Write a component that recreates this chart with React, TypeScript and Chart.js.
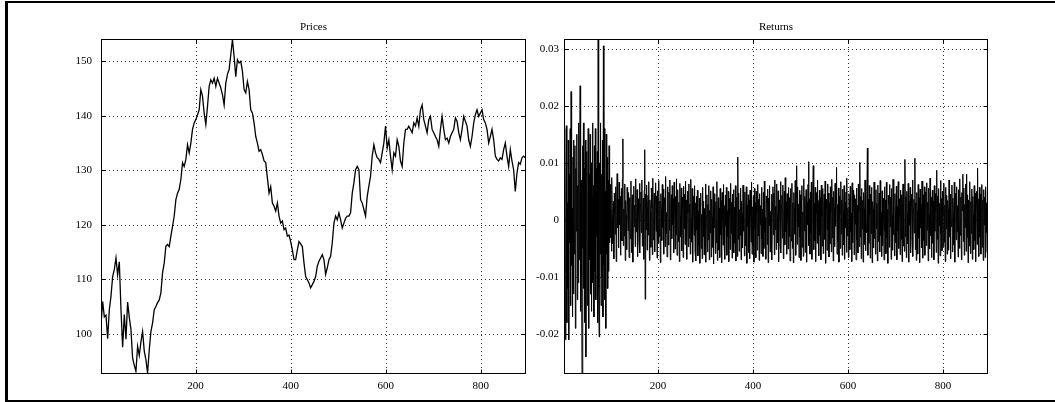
import React, { useEffect, useRef } from "react";
import { Chart, registerables } from "chart.js";

Chart.register(...registerables);

// ---------- data ----------
const PRICE_FIRST_DAY = 1;
const PRICE_SAMPLE_STEP = 3.5;
const prices = [
  101.6, 105.9, 103.1, 103.4, 99.1, 104.4, 106.9, 110.5, 111.8, 113.9, 110.8, 113.2, 104.5, 97.5, 103.5, 99.0,
  105.8, 103.0, 100.8, 95.5, 94.2, 93.1, 97.7, 96.0, 98.5, 100.4, 96.8, 95.2, 92.8, 97.0, 100.4, 102.0,
  104.4, 105.0, 105.7, 106.2, 107.5, 111.2, 113.0, 116.1, 116.4, 116.0, 117.9, 119.7, 121.6, 124.6, 125.8, 126.5,
  128.3, 131.4, 130.7, 132.0, 134.7, 133.2, 135.0, 137.5, 138.7, 139.3, 140.2, 141.1, 144.8, 143.6, 140.5, 138.4,
  141.7, 145.4, 146.6, 146.0, 146.9, 145.4, 146.9, 146.0, 145.1, 143.9, 142.0, 146.0, 147.6, 148.5, 151.2, 154.0,
  150.9, 147.2, 150.3, 149.7, 150.0, 148.2, 144.8, 144.2, 146.3, 144.8, 141.1, 140.5, 138.7, 136.2, 135.0, 133.5,
  133.8, 132.9, 131.7, 131.4, 128.6, 125.8, 127.0, 124.0, 123.4, 122.5, 124.0, 121.6, 120.3, 120.7, 119.1, 119.4,
  117.9, 118.1, 116.9, 115.4, 113.6, 113.6, 115.4, 116.9, 116.5, 116.0, 113.0, 110.5, 109.9, 109.3, 108.4, 109.0,
  109.6, 110.5, 112.4, 113.3, 113.9, 114.5, 113.6, 110.9, 112.1, 113.6, 114.2, 116.7, 120.3, 121.6, 120.9, 122.2,
  120.9, 119.4, 120.3, 121.2, 121.6, 121.6, 122.2, 125.8, 127.7, 130.1, 130.7, 130.1, 124.6, 124.0, 122.8, 121.6,
  125.2, 127.1, 128.9, 132.6, 134.7, 133.2, 132.3, 132.0, 131.4, 133.2, 135.0, 138.1, 134.1, 135.6, 132.6, 130.1,
  133.2, 132.6, 135.6, 134.4, 131.7, 130.7, 135.0, 137.5, 137.5, 138.1, 137.5, 136.9, 138.7, 138.1, 139.6, 138.1,
  141.1, 142.0, 139.3, 138.1, 136.9, 139.3, 139.9, 137.5, 136.9, 136.2, 135.6, 134.4, 137.5, 139.9, 137.5, 135.6,
  135.9, 135.0, 136.2, 136.9, 137.5, 139.6, 139.0, 136.9, 135.6, 137.5, 139.9, 139.0, 138.1, 135.6, 134.4, 136.2,
  138.7, 140.2, 141.1, 139.9, 140.5, 141.1, 139.3, 138.7, 137.5, 135.0, 136.2, 137.5, 135.6, 132.6, 132.0, 131.7,
  132.3, 132.0, 133.8, 135.0, 132.6, 130.7, 133.8, 131.7, 130.1, 126.1, 129.5, 131.4, 131.1, 132.3, 132.6, 132.3,
];

const RETURN_FIRST_DAY = 2;
// daily returns, in percent
const returnsPercent = [
  1.6, -0.9, 1.2, -2.1, 0.5, 1.65, -1.8, 0.3, -1.2, 1.4, -2.1, 0.8, -0.4, 1.6, -1.5, 2.25, -0.8, 0.2, -1.7, 1.1,
  -1.3, 1.4, -0.6, 1.3, -1.9, 0.9, -0.2, 1.5, -1.4, 0.6, -1.1, 1.7, -0.7, 0.4, 2.35, -1.6, 0.7, -1.0, -2.7, 1.3,
  -0.5, 1.7, -1.2, 0.9, -1.8, 1.4, -2.4, 0.6, 1.2, -1.5, 0.3, 1.6, -1.9, 0.8, -0.7, 1.5, -1.3, 1.0, -1.6, 0.4,
  1.7, -1.1, 0.6, -1.7, 1.3, -0.9, 1.6, -1.4, 0.9, -0.3, 1.2, -1.8, 3.17, -1.2, -2.05, 1.0, -0.6, 1.7, -1.5, 0.8,
  -1.0, 1.4, -1.7, 3.05, -0.8, 1.6, -1.4, 0.5, -1.9, 1.5, -0.6, 1.1, -1.2, 0.7, -0.9, 1.3, -0.4,
  0.62, -0.31, 0.18, -0.55, 0.74, 0.05, -0.42, 0.33, -0.68, 0.47, 0.12, -0.25, 0.58, -0.73, 0.29, 0.81, -0.14, 0.36, -0.49, 0.66,
  -0.08, 0.41, -0.62, 0.23, 0.55, -0.37, 0.71, 1.42, -0.45, 0.19, -0.28, 0.63, -0.71, 0.34, 0.08, -0.52, 0.57, 0.27, -0.19, 0.48,
  -0.66, 0.39, 0.11, -0.33, 0.68, -0.57, 0.22, 0.44, -0.74, 0.31, 0.59, -0.12, 0.26, -0.47, 0.72, -0.21, 0.06, 0.53, -0.64, 0.37,
  0.15, -0.39, 0.64, -0.58, 0.28, 0.49, -0.22, 0.7, -0.46, 0.09, 0.38, -0.69, 0.52, 1.23, -1.39, 0.45, -0.17, 0.61, -0.53, 0.24,
  0.43, -0.27, 0.67, -0.71, 0.35, 0.14, -0.48, 0.56, 0.21, -0.61, 0.73, -0.35, 0.1, 0.47, -0.56, 0.3, 0.65, -0.2, 0.42, -0.67,
  0.51, 0.04, -0.41, 0.69, -0.29, 0.33, -0.75, 0.46, 0.18, -0.36, 0.62, -0.13, 0.54, -0.6, 0.27, 0.39, -0.47, 0.76, -0.24, 0.13,
  -0.65, 0.58, 0.32, -0.44, 0.49, -0.18, 0.7, -0.7, 0.25, 0.44, -0.33, 0.6, -0.09, 0.37, -0.58, 0.66, 0.16, -0.51, 0.41, -0.26,
  0.72, -0.62, 0.2, 0.53, -0.38, 0.31, -0.73, 0.64, 0.07, -0.3, 0.56, -0.54, 0.4, 0.22, -0.66, 0.59, -0.15, 0.45, -0.43, 0.68,
  -0.2, 0.35, -0.69, 0.5, 0.12, -0.47, 0.63, -0.32, 0.28, -0.6, 0.71, 0.03, -0.39, 0.55, -0.74, 0.42, 0.19, -0.27, 0.6, -0.55,
  0.3, -0.72, 0.41, -0.18, 0.52, -0.63, 0.15, -0.45, 0.38, -0.76, 0.24, 0.47, -0.5, 0.1, -0.68, 0.57, -0.29, 0.33, -0.61, 0.2,
  -0.42, 0.63, -0.74, 0.08, 0.44, -0.56, 0.27, -0.35, 0.6, -0.7, 0.17, -0.23, 0.51, -0.65, 0.36, 0.05, -0.48, 0.58, -0.77, 0.29,
  -0.14, 0.46, -0.59, 0.32, -0.4, 0.67, -0.71, 0.12, 0.39, -0.53, 0.21, -0.66, 0.55, -0.26, 0.34, -0.75, 0.48, 0.02, -0.44, 0.62,
  -0.37, 0.25, -0.69, 0.43, -0.11, 0.57, -0.62, 0.16, -0.3, 0.5, -0.73, 0.38, 0.09, -0.52, 0.64, -0.24, 0.31, -0.67, 0.45, -0.16,
  0.53, -0.58, 0.22, -0.41, 0.6, -0.72, 0.28, 0.4, -0.64, 1.1, -0.34, 0.47, -0.55, 0.18, -0.27, 0.56, -0.7, 0.33, 0.11, -0.49,
  0.61, -0.2, 0.37, -0.63, 0.49, -0.45, 0.14, 0.58, -0.76, 0.26, -0.12, 0.44, -0.57, 0.35, -0.68, 0.52, 0.07, -0.39, 0.66, -0.6,
  0.23, -0.47, 0.41, -0.74, 0.55, -0.15, 0.3, -0.66, 0.5, 0.13, -0.53, 0.62, -0.28, 0.36, -0.71, 0.46, -0.08, 0.25, -0.59, 0.57,
  -0.33, 0.19, -0.64, 0.48, -0.5, 0.68, -0.22, 0.04, -0.69, 0.42, 0.29, -0.43, 0.54, -0.75, 0.38, -0.1, 0.6, -0.56, 0.15, -0.36,
  0.45, -0.7, 0.32, 0.58, -0.26, 0.47, -0.61, 0.7, -0.17, 0.24, -0.52, 0.63, 0.08, -0.4, 0.51, -0.73, 0.35, 0.19, -0.46, 0.67,
  -0.58, 0.27, 0.43, -0.32, 0.61, -0.68, 0.12, 0.5, -0.44, 0.74, -0.21, 0.33, -0.6, 0.46, 0.02, -0.51, 0.57, -0.29, 0.39, -0.72,
  0.55, 0.16, -0.37, 0.64, -0.5, 0.3, -0.75, 0.48, 0.21, -0.25, 0.69, -0.62, 0.4, 0.95, -0.43, 0.58, -0.12, 0.28, -0.66, 0.52,
  -0.3, 0.44, -0.71, 0.35, 0.6, -0.48, 0.14, -0.64, 0.72, -0.19, 0.41, -0.57, 0.26, 0.53, -0.74, 0.31, -0.08, 0.62, 1.02, -0.45,
  0.37, -0.6, 0.49, -0.23, 0.66, -0.69, 0.18, 0.43, 0.95, -0.52, 0.29, -0.36, 0.57, -0.73, 0.11, 0.48, -0.41, 0.7, -0.15, 0.34,
  -0.63, 0.52, -0.27, 0.39, -0.7, 0.61, 0.06, -0.46, 0.55, -0.59, 0.24, 0.45, -0.34, 0.68, -0.76, 0.2, 0.36, -0.53, 0.63, -0.18,
  0.47, -0.65, 0.3, -0.42, 0.58, 0.13, -0.56, 0.71, -0.31, 0.4, -0.72, 0.5, 0.22, -0.47, 0.64, -0.11, 0.33, 0.92, -0.6, 0.27,
  -0.38, 0.56, -0.74, 0.42, 0.09, -0.5, 0.67, -0.25, 0.35, -0.62, 0.54, 0.17, -0.44, 0.6, -0.69, 0.31, -0.14, 0.49, -0.57, 0.73,
  -0.28, 0.21, -0.66, 0.46, 0.38, -0.52, 0.59, -0.2, 0.12, -0.73, 0.65, -0.4, 0.3, 0.52, -0.61, 0.44, -0.07, 0.37, -0.7, 0.56,
  -0.35, 0.26, -0.58, 0.63, 0.15, -0.47, 1.01, -0.3, 0.41, -0.68, 0.55, -0.16, 0.34, -0.74, 0.48, 0.2, -0.43, 0.7, -0.54, 0.28,
  -0.22, 0.5, 1.26, -0.62, 0.36, -0.41, 0.6, 0.1, -0.67, 0.45, -0.24, 0.57, -0.75, 0.32, 0.19, -0.49, 0.66, -0.33, 0.42, -0.6,
  0.53, -0.15, 0.29, -0.72, 0.61, -0.38, 0.24, 0.47, -0.56, 0.69, -0.27, 0.13, -0.64, 0.51, -0.45, 0.38, 0.04, -0.7, 0.58, -0.2,
  0.35, -0.59, 0.66, -0.31, 0.18, -0.76, 0.43, 0.27, -0.48, 0.62, -0.12, 0.4, -0.69, 0.55, 0.08, -0.53, 0.71, -0.26, 0.32, -0.63,
  0.46, 0.14, -0.4, 0.59, -0.7, 0.23, -0.19, 0.67, -0.5, 0.37, 0.06, -0.61, 0.52, -0.34, 0.44, -0.73, 0.28, 0.63, -0.46, 0.17,
  -0.55, 1.06, -0.29, 0.41, -0.66, 0.5, 0.11, -0.42, 0.64, -0.74, 0.33, -0.09, 0.57, -0.58, 0.25, 0.45, -0.37, 0.7, -0.64, 0.2,
  0.36, -0.23, 1.08, -0.52, 0.3, -0.71, 0.48, 0.16, -0.6, 0.62, -0.32, 0.39, -0.75, 0.54, -0.14, 0.27, -0.49, 0.68, 0.05, -0.67,
  0.44, -0.36, 0.58, -0.62, 0.21, 0.49, -0.45, 0.65, -0.18, 0.31, -0.72, 0.56, 0.1, -0.51, 0.73, -0.28, 0.4, -0.66, 0.24, 0.52,
  -0.41, 0.33, -0.7, 0.6, -0.2, 0.46, 0.15, -0.57, 0.87, -0.34, 0.42, -0.76, 0.55, -0.1, 0.29, -0.63, 0.69, -0.25, 0.37, -0.54,
  0.5, 0.08, -0.47, 0.64, -0.39, 0.26, -0.73, 0.57, -0.16, 0.43, -0.6, 0.34, 0.19, -0.53, 0.7, -0.3, 0.45, -0.68, 0.22, -0.12,
  0.61, -0.56, 0.38, 0.12, -0.44, 0.66, -0.74, 0.3, 0.47, -0.35, 0.58, -0.21, 0.25, -0.65, 0.53, 0.03, -0.5, 0.72, -0.27, 0.4,
  -0.7, 0.48, 0.16, 0.8, -0.38, 0.56, -0.62, 0.27, -0.13, 0.63, -0.55, 0.8, -0.31, 0.44, -0.75, 0.35, 0.2, -0.46, 0.67, -0.59,
  0.32, -0.24, 0.54, -0.69, 0.41, 0.09, -0.52, 0.6, -0.36, 0.47, -0.73, 0.28, 0.5, -0.43, 0.91, -0.17, 0.37, -0.64, 0.57, -0.3,
  0.45, -0.6, 0.21, 0.62, -0.48, 0.35, -0.71, 0.53, -0.09, 0.4, -0.66, 0.58, -0.22, 0.3, -0.57, 0.47, -0.34,
];

const dayTicks = [200, 400, 600, 800];
const priceYTicks = [100, 110, 120, 130, 140, 150];
const returnYTicks = [-0.02, -0.01, 0, 0.01, 0.02, 0.03];
const returnYTickLabels = ["-0.02", "-0.01", "0", "0.01", "0.02", "0.03"];
const priceDayRange = [1, 895];
const returnDayRange = [2, 895];
const priceYRange = [92.6, 154.1];
const returnYRange = [-0.027, 0.0317];

// ---------- styling ----------
const FONT = "'Liberation Serif', 'Times New Roman', serif";

function makeAxesPlugin(title: string) {
  return {
    id: "matlabAxes",
    beforeDatasetsDraw(chart: any) {
      const { ctx, chartArea: a, scales } = chart;
      ctx.save();
      ctx.strokeStyle = "rgba(0,0,0,0.8)";
      ctx.lineWidth = 1;
      ctx.setLineDash([1, 3]);
      for (const t of scales.x.ticks) {
        const px = Math.round(scales.x.getPixelForValue(t.value)) + 0.5;
        ctx.beginPath();
        ctx.moveTo(px, a.top);
        ctx.lineTo(px, a.bottom);
        ctx.stroke();
      }
      for (const t of scales.y.ticks) {
        const py = Math.round(scales.y.getPixelForValue(t.value)) + 0.5;
        ctx.beginPath();
        ctx.moveTo(a.left, py);
        ctx.lineTo(a.right, py);
        ctx.stroke();
      }
      ctx.restore();
    },
    afterDatasetsDraw(chart: any) {
      const { ctx, chartArea: a, scales } = chart;
      const L = Math.round(a.left) + 0.5;
      const R = Math.round(a.right) - 0.5;
      const T = Math.round(a.top) + 0.5;
      const B = Math.round(a.bottom) - 0.5;
      ctx.save();
      ctx.strokeStyle = "#000";
      ctx.lineWidth = 1;
      ctx.setLineDash([]);
      ctx.strokeRect(L, T, R - L, B - T);
      const tl = 4;
      ctx.beginPath();
      for (const t of scales.x.ticks) {
        const px = Math.round(scales.x.getPixelForValue(t.value)) + 0.5;
        ctx.moveTo(px, B);
        ctx.lineTo(px, B - tl);
        ctx.moveTo(px, T);
        ctx.lineTo(px, T + tl);
      }
      for (const t of scales.y.ticks) {
        const py = Math.round(scales.y.getPixelForValue(t.value)) + 0.5;
        ctx.moveTo(L, py);
        ctx.lineTo(L + tl, py);
        ctx.moveTo(R, py);
        ctx.lineTo(R - tl, py);
      }
      ctx.stroke();
      ctx.fillStyle = "#000";
      ctx.font = `11px ${FONT}`;
      ctx.textAlign = "center";
      ctx.textBaseline = "middle";
      ctx.fillText(title, (a.left + a.right) / 2, 27);
      ctx.restore();
    },
  };
}

function makeConfig(opts: {
  points: { x: number; y: number }[];
  title: string;
  xRange: number[];
  yRange: number[];
  yTicks: number[];
  yLabel: (v: number) => string;
  yAxisWidth: number;
  rightPad: number;
  yPad: number;
  lineWidth: number;
}): any {
  return {
    type: "line",
    data: {
      datasets: [
        {
          data: opts.points,
          borderColor: "#000",
          borderWidth: opts.lineWidth,
          pointRadius: 0,
          tension: 0,
          fill: false,
        },
      ],
    },
    plugins: [makeAxesPlugin(opts.title)],
    options: {
      animation: false,
      responsive: false,
      maintainAspectRatio: false,
      events: [],
      parsing: false,
      layout: { padding: { top: 39, right: opts.rightPad, left: 0, bottom: 0 } },
      plugins: {
        legend: { display: false },
        tooltip: { enabled: false },
        title: { display: false },
      },
      scales: {
        x: {
          type: "linear",
          min: opts.xRange[0],
          max: opts.xRange[1],
          grid: { display: false, drawTicks: false },
          border: { display: false },
          afterBuildTicks: (s: any) => {
            s.ticks = dayTicks.map((v) => ({ value: v }));
          },
          afterFit: (s: any) => {
            s.height = 28;
          },
          ticks: {
            padding: 6,
            color: "#000",
            maxRotation: 0,
            autoSkip: false,
            font: { family: FONT, size: 11 },
            callback: (v: number) => String(v),
          },
        },
        y: {
          type: "linear",
          min: opts.yRange[0],
          max: opts.yRange[1],
          grid: { display: false, drawTicks: false },
          border: { display: false },
          afterBuildTicks: (s: any) => {
            s.ticks = opts.yTicks.map((v) => ({ value: v }));
          },
          afterFit: (s: any) => {
            s.width = opts.yAxisWidth;
          },
          ticks: {
            padding: opts.yPad,
            color: "#000",
            autoSkip: false,
            font: { family: FONT, size: 11 },
            callback: (v: number) => opts.yLabel(v),
          },
        },
      },
    },
  };
}

export default function App() {
  const leftRef = useRef<HTMLCanvasElement>(null);
  const rightRef = useRef<HTMLCanvasElement>(null);

  useEffect(() => {
    const pricePoints = prices.map((v, i) => ({ x: PRICE_FIRST_DAY + i * PRICE_SAMPLE_STEP, y: v }));
    const returnPoints = returnsPercent.map((v, i) => ({ x: RETURN_FIRST_DAY + i, y: v / 100 }));

    const left = new Chart(
      leftRef.current as HTMLCanvasElement,
      makeConfig({
        points: pricePoints,
        title: "Prices",
        xRange: priceDayRange,
        yRange: priceYRange,
        yTicks: priceYTicks,
        yLabel: (v) => String(v),
        yAxisWidth: 101,
        rightPad: 540 - 526,
        yPad: 9,
        lineWidth: 1.3,
      })
    );
    const right = new Chart(
      rightRef.current as HTMLCanvasElement,
      makeConfig({
        points: returnPoints,
        title: "Returns",
        xRange: returnDayRange,
        yRange: returnYRange,
        yTicks: returnYTicks,
        yLabel: (v) => {
          const k = returnYTicks.indexOf(v);
          return k >= 0 ? returnYTickLabels[k] : String(v);
        },
        yAxisWidth: 44,
        rightPad: 535 - 468,
        yPad: 5,
        lineWidth: 1,
      })
    );
    return () => {
      left.destroy();
      right.destroy();
    };
  }, []);

  return (
    <div
      style={{
        position: "fixed",
        left: 0,
        top: 0,
        width: 1055,
        height: 402,
        overflow: "hidden",
        background: "#fff",
      }}
    >
      <div
        style={{
          position: "absolute",
          left: 5,
          top: 1,
          width: 1200,
          height: 401,
          boxSizing: "border-box",
          borderTop: "2px solid #000",
          borderLeft: "3px solid #000",
          borderBottom: "2px solid #000",
        }}
      />
      <canvas
        ref={leftRef}
        width={540}
        height={402}
        style={{ position: "absolute", left: 0, top: 0, width: 540, height: 402 }}
      />
      <canvas
        ref={rightRef}
        width={535}
        height={402}
        style={{ position: "absolute", left: 520, top: 0, width: 535, height: 402 }}
      />
    </div>
  );
}
